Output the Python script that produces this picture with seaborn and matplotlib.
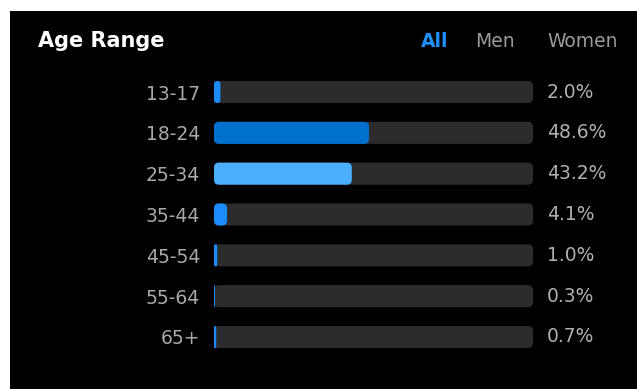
import matplotlib
matplotlib.use("Agg")
import matplotlib.pyplot as plt
from matplotlib.patches import FancyBboxPatch
import seaborn as sns
import pandas as pd

ages = ["13-17", "18-24", "25-34", "35-44", "45-54", "55-64", "65+"]
shares = [2.0, 48.6, 43.2, 4.1, 1.0, 0.3, 0.7]
bar_colors = ["#1a8cff", "#0070cf", "#4aafff", "#1a8cff", "#1a8cff", "#1a8cff", "#1a8cff"]
tabs = ["All", "Men", "Women"]
title = "Age Range"

W, H = 637, 389
sns.set_theme(style="dark")
plt.rcParams["font.family"] = ["DejaVu Sans"]

fig = plt.figure(figsize=(W / 100, H / 100), dpi=100, facecolor="white")
bg = fig.add_axes([10 / W, 0, 1 - 10 / W, 1 - 11 / H])
bg.set_facecolor("black")
bg.set_xticks([]); bg.set_yticks([])
for s in bg.spines.values():
    s.set_visible(False)

# main bar axes: x 214..533 px, rows centred 92..337 px
x0, x1 = 214, 533
rowstep = (337 - 92) / 6
top = 92 - rowstep / 2
bot = 337 + rowstep / 2
ax = fig.add_axes([x0 / W, (H - bot) / H, (x1 - x0) / W, (bot - top) / H])
ax.set_facecolor("none")

df = pd.DataFrame({"age": ages, "share": shares, "track": [100.0] * len(ages)})
sns.barplot(data=df, x="track", y="age", color="#2c2c2e", width=0.54,
            orient="h", ax=ax, saturation=1)
sns.barplot(data=df, x="share", y="age", hue="age", palette=bar_colors,
            width=0.54, orient="h", dodge=False, legend=False, ax=ax, saturation=1)
ax.set_xlim(0, 100)
ax.set_ylim(len(ages) - 0.5, -0.5)

# round the bars
pxx = (x1 - x0) / 100.0
pxy = rowstep
rad_px = 5.0
for p in list(ax.patches):
    x, y, w, h = p.get_x(), p.get_y(), p.get_width(), p.get_height()
    fc = p.get_facecolor()
    z = p.get_zorder()
    p.remove()
    r = min(rad_px / pxx, w / 2)
    if r <= 0:
        continue
    fb = FancyBboxPatch((x, y), w, h,
                        boxstyle=f"round,pad=0,rounding_size={r}",
                        mutation_aspect=pxx / pxy,
                        facecolor=fc, edgecolor="none", zorder=z)
    ax.add_patch(fb)

ax.set_xticks([])
ax.set_yticks(range(len(ages)))
ax.set_yticklabels(ages, color="#a8a8a8", fontsize=13.5)
ax.tick_params(axis="y", length=0, pad=10)
ax.set_xlabel(""); ax.set_ylabel("")
for s in ax.spines.values():
    s.set_visible(False)
ax.grid(False)

for i, v in enumerate(shares):
    ax.annotate(f"{v:.1f}%", xy=(1.0, i), xycoords=("axes fraction", "data"),
                xytext=(14 * 72 / 100, 0), textcoords="offset points",
                ha="left", va="center", color="#b0b0b0", fontsize=13.5)

fig.text(38 / W, 1 - 47 / H, title, color="white", fontsize=15,
         fontweight="bold", ha="left", va="baseline")
tab_x = [421, 475, 547]
tab_c = ["#1f8fff", "#9a9a9a", "#9a9a9a"]
tab_w = ["bold", "normal", "normal"]
for t, xx, c, fw in zip(tabs, tab_x, tab_c, tab_w):
    fig.text(xx / W, 1 - 47 / H, t, color=c, fontsize=13.5, fontweight=fw,
             ha="left", va="baseline")

fig.savefig("out.png", dpi=100, facecolor="white")
